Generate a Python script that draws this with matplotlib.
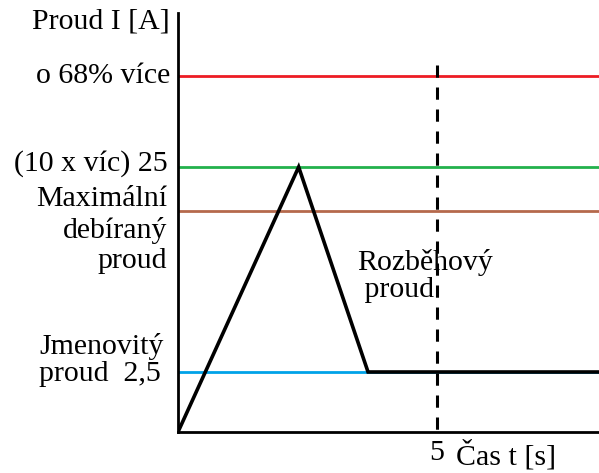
import matplotlib.pyplot as plt

# schematic current levels (arbitrary units, 0 = time axis)
level_names = ["Jmenovitý proud", "Maximální debíraný proud", "10 x víc", "o 68% více"]
level_values = [60, 221, 265, 356]
level_colors = ["#00a2e8", "#b5694c", "#22b14c", "#ed1c24"]

# starting current curve
t_points = [0, 2.33, 3.67, 8.13]
i_points = [0, 265, 60, 60]

t_marker = 5
t_max = 8.13
i_max = 419

plt.rcParams["font.family"] = ["Liberation Serif", "DejaVu Serif"]
fs = 21.5

fig = plt.figure(figsize=(5.99, 4.73), dpi=100)
ax = fig.add_axes([178 / 599, 41 / 473, 421 / 599, 419 / 473])

for val, col in zip(level_values, level_colors):
    ax.axhline(val, color=col, lw=2.0, zorder=1)

ax.plot(t_points, i_points, color="black", lw=2.6, zorder=3, solid_joinstyle="miter")
# dashed marker drawn top-down so the dash pattern starts at the top
ax.plot([t_marker, t_marker], [367, -4], color="black", lw=2.2,
        linestyle=(0, (4.0, 3.2)), clip_on=False, zorder=2)

ax.set_xlim(0, t_max)
ax.set_ylim(0, i_max)
ax.set_xticks([])
ax.set_yticks([])
for side in ["top", "right"]:
    ax.spines[side].set_visible(False)
for side in ["left", "bottom"]:
    ax.spines[side].set_linewidth(2.0)

# labels left of the axis
fig.text(170 / 599, 1 - 21 / 473, "Proud I [A]", ha="right", va="center", fontsize=fs)
fig.text(170 / 599, 1 - 76 / 473, "o 68% více", ha="right", va="center", fontsize=fs)
fig.text(168 / 599, 1 - 164 / 473, "(10 x víc) 25", ha="right", va="center", fontsize=fs)
fig.text(167 / 599, 1 - 230 / 473, "Maximální\ndebíraný\nproud", ha="right", va="center",
         fontsize=fs, multialignment="right", linespacing=1.22)
fig.text(39 / 599, 1 - 360 / 473, "Jmenovitý\nproud  2,5", ha="left", va="center",
         fontsize=fs, multialignment="left", linespacing=1.08)

# labels in the plot
fig.text(357 / 599, 1 - 276 / 473, "Rozběhový\n proud", ha="left", va="center",
         fontsize=fs, linespacing=1.08)
fig.text(437 / 599, 1 - 453 / 473, "5", ha="center", va="center", fontsize=fs)
fig.text(456 / 599, 1 - 455 / 473, "Čas t [s]", ha="left", va="center", fontsize=fs)

fig.savefig("out.png", dpi=100)
